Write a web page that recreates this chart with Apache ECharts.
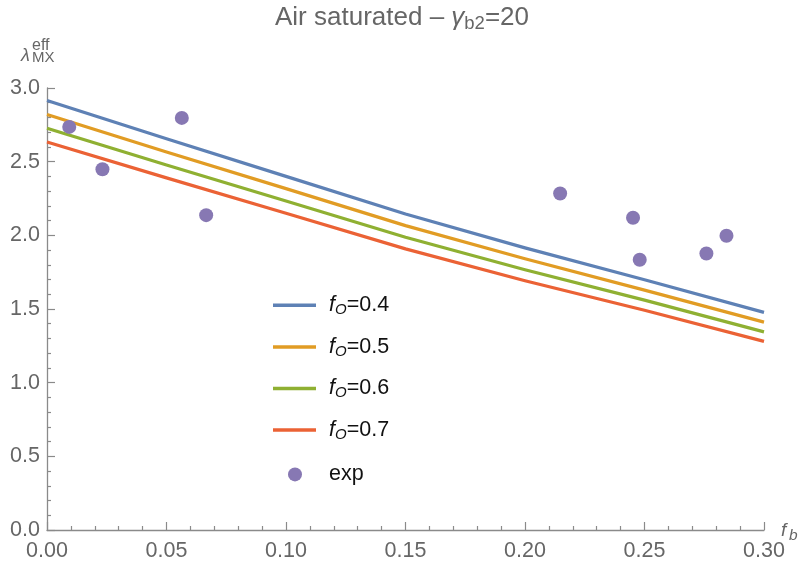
<!DOCTYPE html>
<html>
<head>
<meta charset="utf-8">
<script src="https://cdn.jsdelivr.net/npm/echarts@6/dist/echarts.min.js"></script>
<style>
  html, body { margin: 0; padding: 0; background: #fff; }
  #chart { width: 799px; height: 568px; }
</style>
</head>
<body>
<div id="chart"></div>
<script>
// Bound-fraction grid on which the model curves are evaluated
const fbGrid = [0, 0.05, 0.10, 0.15, 0.20, 0.25, 0.30];

// Effective lambda_MX model curves for each oxygen fraction f_O
const lambdaFo04 = [2.915, 2.655, 2.400, 2.145, 1.915, 1.698, 1.477];
const lambdaFo05 = [2.820, 2.566, 2.317, 2.066, 1.841, 1.628, 1.411];
const lambdaFo06 = [2.727, 2.478, 2.233, 1.987, 1.766, 1.560, 1.345];
const lambdaFo07 = [2.634, 2.390, 2.150, 1.908, 1.692, 1.492, 1.280];
const foLabels = ['0.4', '0.5', '0.6', '0.7'];

// Experimental points
const expFb     = [0.0093, 0.0232, 0.0564, 0.0666, 0.2147, 0.2452, 0.2480, 0.2759, 0.2843];
const expLambda = [2.736, 2.449, 2.797, 2.137, 2.284, 2.119, 1.834, 1.877, 1.997];

const FONT = '"Liberation Sans", Arial, sans-serif';
const GRAY = '#666666';
const AXIS = '#8a8a8a';
const lineColors = ['#5E81B5', '#E19C24', '#8FB032', '#EB6235'];
const expColor = '#8778B3';

const curves = [lambdaFo04, lambdaFo05, lambdaFo06, lambdaFo07];
const lineSeries = curves.map((vals, k) => ({
  name: 'fO=' + foLabels[k],
  type: 'line',
  data: fbGrid.map((x, i) => [x, vals[i]]),
  smooth: false,
  showSymbol: false,
  symbol: 'none',
  lineStyle: { width: 3.2, color: lineColors[k], join: 'round' },
  itemStyle: { color: lineColors[k] },
  z: 2
}));

const expSeries = {
  name: 'exp',
  type: 'scatter',
  data: expFb.map((x, i) => [x, expLambda[i]]),
  symbol: 'circle',
  symbolSize: 14,
  itemStyle: { color: expColor, opacity: 1 },
  z: 3
};

const legendRich = {
  i: { fontFamily: FONT, fontSize: 21.5, fontStyle: 'italic', color: '#111', lineHeight: 24, padding: [0, 0, 0, 8] },
  s: { fontFamily: FONT, fontSize: 15, fontStyle: 'italic', color: '#111', lineHeight: 11, verticalAlign: 'bottom' },
  n: { fontFamily: FONT, fontSize: 21.5, color: '#111', lineHeight: 24 },
  e: { fontFamily: FONT, fontSize: 21.5, color: '#111', lineHeight: 24, padding: [0, 0, 0, 22] }
};

const plain = (size, italic) => ({
  fontFamily: FONT, fontSize: size, fontStyle: italic ? 'italic' : 'normal',
  fontWeight: 'normal', color: GRAY
});

const chart = echarts.init(document.getElementById('chart'), null, { renderer: 'canvas' });

chart.setOption({
  backgroundColor: '#ffffff',
  animation: false,
  title: [
    {
      text: '{n|Air saturated \u2013 }{g|\u03b3}{s|b2}{n|=20}',
      left: 275, top: 3, padding: 0,
      textStyle: {
        fontWeight: 'normal',
        rich: {
          n: { fontFamily: FONT, fontSize: 26, fontWeight: 'normal', color: GRAY, lineHeight: 30 },
          g: { fontFamily: FONT, fontSize: 26, fontStyle: 'italic', fontWeight: 'normal', color: GRAY, lineHeight: 30 },
          s: { fontFamily: FONT, fontSize: 18.5, fontWeight: 'normal', color: GRAY, lineHeight: 17, verticalAlign: 'bottom' }
        }
      }
    },
    { text: '\u03bb', left: 21, top: 47, padding: 0, textStyle: plain(18, true) },
    { text: 'eff', left: 32, top: 38, padding: 0, textStyle: plain(16, false) },
    { text: 'MX', left: 32, top: 50, padding: 0, textStyle: plain(15, false) },
    { text: 'f', left: 781, top: 521, padding: 0, textStyle: plain(19, true) },
    { text: 'b', left: 789, top: 528, padding: 0, textStyle: plain(15.5, true) }
  ],
  legend: [
    {
      data: lineSeries.map(s => s.name),
      orient: 'vertical',
      left: 273, top: 294.3,
      padding: 0,
      itemGap: 18.6,
      itemWidth: 43,
      itemHeight: 3.5,
      icon: 'rect',
      selectedMode: false,
      formatter: name => '{i|f}{s|O}{n|=' + name.split('=')[1] + '}',
      textStyle: { rich: legendRich }
    },
    {
      data: ['exp'],
      orient: 'vertical',
      left: 288, top: 463.4,
      padding: 0,
      itemWidth: 14,
      itemHeight: 14,
      icon: 'circle',
      selectedMode: false,
      formatter: name => '{e|' + name + '}',
      textStyle: { rich: legendRich }
    }
  ],
  grid: {
    left: 47, right: 35, top: 88, bottom: 38,
    containLabel: false,
    outerBoundsMode: 'none'
  },
  xAxis: {
    type: 'value',
    min: 0, max: 0.30, interval: 0.05,
    axisLine: { show: true, onZero: false, lineStyle: { color: AXIS, width: 1.3 } },
    axisTick: { show: true, inside: true, length: 8, lineStyle: { color: AXIS, width: 1.2 } },
    minorTick: { show: true, splitNumber: 5, length: 4, lineStyle: { color: AXIS, width: 1.2 } },
    splitLine: { show: false },
    minorSplitLine: { show: false },
    axisLabel: {
      margin: 10,
      fontFamily: FONT, fontSize: 21.5, color: GRAY,
      formatter: v => v.toFixed(2)
    }
  },
  yAxis: {
    type: 'value',
    min: 0, max: 3.0, interval: 0.5,
    axisLine: { show: true, onZero: false, lineStyle: { color: AXIS, width: 1.3 } },
    axisTick: { show: true, inside: true, length: 8, lineStyle: { color: AXIS, width: 1.2 } },
    minorTick: { show: true, splitNumber: 5, length: 4, lineStyle: { color: AXIS, width: 1.2 } },
    splitLine: { show: false },
    minorSplitLine: { show: false },
    axisLabel: {
      margin: 7,
      fontFamily: FONT, fontSize: 21.5, color: GRAY,
      formatter: v => v.toFixed(1)
    }
  },
  series: [...lineSeries, expSeries]
});
</script>
</body>
</html>
